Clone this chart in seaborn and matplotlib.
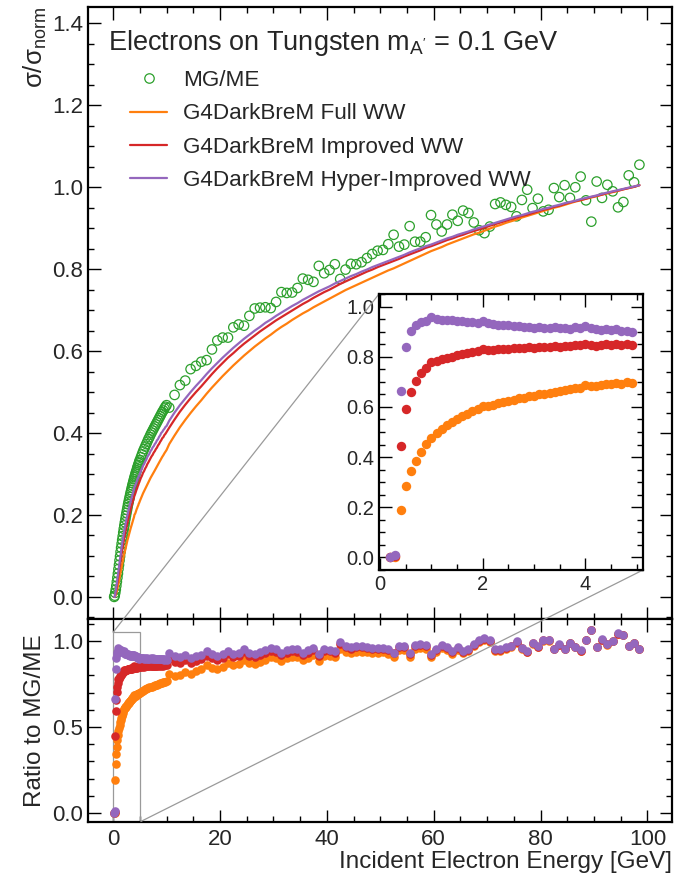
import numpy as np
import matplotlib
matplotlib.use("Agg")
import matplotlib.pyplot as plt
import seaborn as sns
from matplotlib.lines import Line2D
from matplotlib.ticker import MultipleLocator
from mpl_toolkits.axes_grid1.inset_locator import mark_inset

# ---------------- data ----------------
# low-energy region: MG/ME cross section and model/MG ratios (inset)
energy_lo = [0.2, 0.3, 0.4, 0.5, 0.6, 0.7, 0.8, 0.9, 1.0, 1.1,
             1.2, 1.3, 1.4, 1.5, 1.6, 1.7, 1.8, 1.9, 2.0, 2.1,
             2.2, 2.3, 2.4, 2.5, 2.6, 2.7, 2.8, 2.9, 3.0, 3.1,
             3.2, 3.3, 3.4, 3.5, 3.6, 3.7, 3.8, 3.9, 4.0, 4.1,
             4.2, 4.3, 4.4, 4.5, 4.6, 4.7, 4.8, 4.9,
             5.0, 5.2, 5.4, 5.6, 5.8, 6.0, 6.2, 6.4, 6.6, 6.8,
             7.0, 7.2, 7.4, 7.6, 7.8, 8.0, 8.2, 8.4, 8.6, 8.8,
             9.0, 9.2, 9.4, 9.6, 9.8, 10.0]
mg_lo = [0.000, 0.003, 0.010, 0.018, 0.027, 0.037, 0.047, 0.057, 0.068, 0.078,
         0.089, 0.099, 0.110, 0.120, 0.130, 0.139, 0.148, 0.157, 0.166, 0.174,
         0.182, 0.190, 0.198, 0.205, 0.212, 0.219, 0.226, 0.232, 0.238, 0.244,
         0.250, 0.256, 0.261, 0.267, 0.272, 0.277, 0.282, 0.287, 0.292, 0.296,
         0.301, 0.305, 0.309, 0.314, 0.318, 0.322, 0.326, 0.330,
         0.334, 0.341, 0.348, 0.355, 0.361, 0.367, 0.373, 0.379, 0.385, 0.390,
         0.396, 0.401, 0.406, 0.411, 0.416, 0.421, 0.426, 0.431, 0.436, 0.441,
         0.446, 0.451, 0.455, 0.460, 0.464, 0.468]
ratio_full_lo = [0.0, 0.0, 0.190, 0.283, 0.343, 0.386, 0.422, 0.451, 0.478, 0.495,
                 0.512, 0.527, 0.540, 0.552, 0.562, 0.572, 0.582, 0.591, 0.603, 0.604,
                 0.609, 0.614, 0.619, 0.624, 0.629, 0.635, 0.637, 0.642, 0.645, 0.650,
                 0.652, 0.657, 0.660, 0.662, 0.667, 0.670, 0.675, 0.677, 0.688, 0.684,
                 0.683, 0.688, 0.692, 0.690, 0.694, 0.693, 0.698, 0.697,
                 0.700, 0.705, 0.708, 0.712, 0.715, 0.719, 0.722, 0.725, 0.727, 0.730,
                 0.733, 0.735, 0.738, 0.740, 0.742, 0.745, 0.747, 0.749, 0.751, 0.754,
                 0.756, 0.758, 0.760, 0.762, 0.764, 0.766]
ratio_improved_lo = [0.0, 0.005, 0.446, 0.591, 0.659, 0.704, 0.734, 0.754, 0.778, 0.782,
                     0.789, 0.795, 0.800, 0.806, 0.810, 0.814, 0.818, 0.821, 0.832, 0.826,
                     0.828, 0.830, 0.831, 0.832, 0.833, 0.836, 0.835, 0.837, 0.836, 0.839,
                     0.838, 0.840, 0.842, 0.840, 0.843, 0.842, 0.846, 0.845, 0.852, 0.846,
                     0.844, 0.847, 0.849, 0.845, 0.849, 0.847, 0.850, 0.848,
                     0.849, 0.852, 0.850, 0.853, 0.851, 0.854, 0.852, 0.855, 0.853, 0.855,
                     0.854, 0.856, 0.854, 0.857, 0.855, 0.857, 0.855, 0.858, 0.856, 0.858,
                     0.857, 0.859, 0.857, 0.859, 0.858, 0.860]
ratio_hyper_lo = [0.0, 0.010, 0.665, 0.840, 0.902, 0.927, 0.937, 0.944, 0.960, 0.950,
                  0.948, 0.946, 0.945, 0.942, 0.941, 0.939, 0.937, 0.935, 0.941, 0.933,
                  0.930, 0.927, 0.927, 0.925, 0.922, 0.924, 0.920, 0.919, 0.916, 0.918,
                  0.915, 0.914, 0.917, 0.913, 0.916, 0.912, 0.917, 0.915, 0.921, 0.914,
                  0.911, 0.908, 0.910, 0.905, 0.909, 0.902, 0.904, 0.898,
                  0.900, 0.903, 0.899, 0.902, 0.898, 0.900, 0.897, 0.901, 0.898, 0.896,
                  0.899, 0.896, 0.899, 0.895, 0.897, 0.894, 0.897, 0.893, 0.896, 0.894,
                  0.897, 0.893, 0.895, 0.892, 0.894, 0.891]

# high-energy region: MG/ME cross section and the three G4DarkBreM curves
energy_hi = [10.5, 11.5, 12.5, 13.5, 14.5, 15.5, 16.5, 17.5, 18.5, 19.5,
             20.5, 21.5, 22.5, 23.5, 24.5, 25.5, 26.5, 27.5, 28.5, 29.5,
             30.5, 31.5, 32.5, 33.5, 34.5, 35.5, 36.5, 37.5, 38.5, 39.5,
             40.5, 41.5, 42.5, 43.5, 44.5, 45.5, 46.5, 47.5, 48.5, 49.5,
             50.5, 51.5, 52.5, 53.5, 54.5, 55.5, 56.5, 57.5, 58.5, 59.5,
             60.5, 61.5, 62.5, 63.5, 64.5, 65.5, 66.5, 67.5, 68.5, 69.5,
             70.5, 71.5, 72.5, 73.5, 74.5, 75.5, 76.5, 77.5, 78.5, 79.5,
             80.5, 81.5, 82.5, 83.5, 84.5, 85.5, 86.5, 87.5, 88.5, 89.5,
             90.5, 91.5, 92.5, 93.5, 94.5, 95.5, 96.5, 97.5, 98.5]
mg_hi = [0.462, 0.493, 0.517, 0.528, 0.556, 0.564, 0.574, 0.578, 0.604, 0.626,
         0.633, 0.633, 0.658, 0.665, 0.662, 0.686, 0.704, 0.706, 0.707, 0.705,
         0.720, 0.744, 0.742, 0.743, 0.754, 0.777, 0.774, 0.769, 0.808, 0.790,
         0.798, 0.812, 0.776, 0.799, 0.813, 0.812, 0.817, 0.827, 0.837, 0.845,
         0.847, 0.861, 0.884, 0.855, 0.860, 0.905, 0.867, 0.867, 0.878, 0.932,
         0.909, 0.892, 0.909, 0.933, 0.918, 0.943, 0.937, 0.914, 0.895, 0.888,
         0.904, 0.959, 0.963, 0.957, 0.952, 0.929, 0.969, 0.994, 0.949, 0.972,
         0.941, 0.945, 0.998, 0.976, 1.005, 0.974, 1.000, 1.026, 0.968, 0.916,
         1.014, 0.974, 1.006, 0.990, 0.951, 0.964, 1.029, 1.012, 1.055]
full_hi = [0.373, 0.394, 0.414, 0.432, 0.449, 0.465, 0.480, 0.496, 0.511, 0.525,
           0.539, 0.552, 0.565, 0.577, 0.589, 0.600, 0.611, 0.621, 0.631, 0.640,
           0.650, 0.659, 0.667, 0.676, 0.684, 0.692, 0.699, 0.707, 0.714, 0.721,
           0.728, 0.735, 0.742, 0.749, 0.755, 0.761, 0.767, 0.773, 0.779, 0.785,
           0.791, 0.797, 0.802, 0.808, 0.814, 0.820, 0.826, 0.832, 0.838, 0.844,
           0.849, 0.854, 0.860, 0.865, 0.870, 0.875, 0.880, 0.885, 0.889, 0.894,
           0.899, 0.904, 0.908, 0.913, 0.917, 0.921, 0.926, 0.930, 0.934, 0.938,
           0.942, 0.946, 0.950, 0.953, 0.957, 0.961, 0.965, 0.968, 0.972, 0.975,
           0.978, 0.982, 0.985, 0.988, 0.991, 0.995, 0.998, 1.001, 1.005]
improved_hi = [0.413, 0.433, 0.452, 0.469, 0.485, 0.500, 0.514, 0.529, 0.544, 0.558,
               0.571, 0.584, 0.595, 0.607, 0.618, 0.628, 0.638, 0.648, 0.657, 0.666,
               0.675, 0.683, 0.691, 0.699, 0.707, 0.715, 0.722, 0.730, 0.737, 0.744,
               0.750, 0.757, 0.764, 0.770, 0.776, 0.782, 0.788, 0.794, 0.799, 0.805,
               0.810, 0.815, 0.820, 0.825, 0.831, 0.836, 0.841, 0.846, 0.852, 0.856,
               0.861, 0.866, 0.871, 0.875, 0.880, 0.884, 0.889, 0.893, 0.897, 0.901,
               0.906, 0.910, 0.914, 0.918, 0.922, 0.926, 0.930, 0.933, 0.937, 0.941,
               0.945, 0.948, 0.952, 0.955, 0.959, 0.963, 0.966, 0.969, 0.972, 0.976,
               0.979, 0.982, 0.986, 0.989, 0.992, 0.995, 0.998, 1.001, 1.005]
hyper_hi = [0.430, 0.450, 0.468, 0.484, 0.500, 0.515, 0.529, 0.544, 0.558, 0.571,
            0.584, 0.596, 0.608, 0.619, 0.630, 0.640, 0.650, 0.659, 0.669, 0.677,
            0.686, 0.694, 0.702, 0.710, 0.717, 0.725, 0.732, 0.739, 0.746, 0.752,
            0.758, 0.765, 0.771, 0.777, 0.783, 0.788, 0.794, 0.799, 0.805, 0.810,
            0.815, 0.820, 0.825, 0.830, 0.835, 0.841, 0.846, 0.851, 0.856, 0.860,
            0.865, 0.870, 0.875, 0.879, 0.884, 0.888, 0.892, 0.897, 0.901, 0.905,
            0.909, 0.913, 0.917, 0.921, 0.925, 0.929, 0.932, 0.936, 0.940, 0.943,
            0.947, 0.950, 0.954, 0.957, 0.961, 0.964, 0.967, 0.971, 0.974, 0.977,
            0.980, 0.984, 0.987, 0.990, 0.993, 0.996, 0.999, 1.002, 1.005]

labels = ["MG/ME", "G4DarkBreM Full WW", "G4DarkBreM Improved WW",
          "G4DarkBreM Hyper-Improved WW"]
title_text = "Electrons on Tungsten m$_{\\mathrm{A}^{\\prime}}$ = 0.1 GeV"

# ---------------- assemble series ----------------
mg_lo_a, mg_hi_a = np.array(mg_lo), np.array(mg_hi)
energy = np.array(energy_lo + energy_hi)
mg = np.concatenate([mg_lo_a, mg_hi_a])
curve = {
    "full": np.concatenate([np.array(ratio_full_lo) * mg_lo_a, full_hi]),
    "improved": np.concatenate([np.array(ratio_improved_lo) * mg_lo_a, improved_hi]),
    "hyper": np.concatenate([np.array(ratio_hyper_lo) * mg_lo_a, hyper_hi]),
}
ratio = {
    "full": np.concatenate([ratio_full_lo, np.array(full_hi) / mg_hi_a]),
    "improved": np.concatenate([ratio_improved_lo, np.array(improved_hi) / mg_hi_a]),
    "hyper": np.concatenate([ratio_hyper_lo, np.array(hyper_hi) / mg_hi_a]),
}
colors = {"mg": "#2ca02c", "full": "#ff7f0e", "improved": "#d62728", "hyper": "#9467bd"}

# ---------------- style ----------------
sns.set_theme(style="ticks")
plt.rcParams["font.family"] = ["Liberation Sans", "DejaVu Sans"]
plt.rcParams["mathtext.fontset"] = "custom"
plt.rcParams["mathtext.rm"] = "Liberation Sans"
plt.rcParams["mathtext.it"] = "Liberation Sans:italic"
plt.rcParams["mathtext.bf"] = "Liberation Sans:bold"
plt.rcParams["axes.linewidth"] = 1.6

W, H = 679, 884
fig = plt.figure(figsize=(W / 100, H / 100), dpi=100)
fig.patch.set_facecolor("white")
ax_main = fig.add_axes([88 / W, 1 - 619 / H, 584 / W, 612 / H])
ax_bot = fig.add_axes([88 / W, 1 - 822 / H, 584 / W, 203 / H])
ax_in = fig.add_axes([379 / W, 1 - 570 / H, 264 / W, 276 / H])
ax_main.set_facecolor("none")


def style_axes(ax, xmaj, xmin, ymaj, ymin, fs):
    ax.xaxis.set_major_locator(MultipleLocator(xmaj))
    ax.xaxis.set_minor_locator(MultipleLocator(xmin))
    ax.yaxis.set_major_locator(MultipleLocator(ymaj))
    ax.yaxis.set_minor_locator(MultipleLocator(ymin))
    ax.tick_params(which="both", direction="in", top=True, right=True,
                   width=1.0, color="black", labelsize=fs)
    ax.tick_params(which="major", length=9)
    ax.tick_params(which="minor", length=4.5)
    for s in ax.spines.values():
        s.set_linewidth(1.6)
        s.set_color("black")


# ---------------- top panel ----------------
sns.scatterplot(x=energy, y=mg, ax=ax_main, marker="o", s=46,
                facecolors="none", edgecolor=colors["mg"], linewidth=0.9, zorder=2)
for key in ["full", "improved", "hyper"]:
    sns.lineplot(x=energy, y=curve[key], ax=ax_main, color=colors[key],
                 linewidth=1.6, sort=False, estimator=None, zorder=3)
ax_main.set_xlim(-4.7, 104.6)
ax_main.set_ylim(-0.054, 1.44)
style_axes(ax_main, 20, 5, 0.2, 0.05, 16)
ax_main.tick_params(labelbottom=False)
ax_main.set_xlabel("")
ax_main.set_ylabel("σ/σ$_{\\mathrm{norm}}$", fontsize=18.5, loc="top")
ax_main.yaxis.set_label_coords(-0.066, 1.0)

ax_main.text(0.034, 0.930, title_text, transform=ax_main.transAxes,
             fontsize=19.5, ha="left", va="baseline")
handles = [
    Line2D([], [], marker="o", ls="none", mfc="none", mec=colors["mg"], ms=6.8, mew=0.9),
    Line2D([], [], color=colors["full"], lw=1.6),
    Line2D([], [], color=colors["improved"], lw=1.6),
    Line2D([], [], color=colors["hyper"], lw=1.6),
]
ax_main.legend(handles, labels, loc="upper left", bbox_to_anchor=(0.072, 0.897),
               frameon=False, fontsize=16.2, borderpad=0, borderaxespad=0,
               handlelength=1.65, handletextpad=0.72, labelspacing=0.55)

# ---------------- ratio panel ----------------
for key in ["full", "improved", "hyper"]:
    sns.scatterplot(x=energy, y=ratio[key], ax=ax_bot, color=colors[key], s=38,
                    linewidth=0, zorder=3)
ax_bot.set_xlim(-4.7, 104.6)
ax_bot.set_ylim(-0.052, 1.128)
style_axes(ax_bot, 20, 5, 0.5, 0.1, 16)
ax_bot.tick_params(axis="x", which="major", pad=5)
ax_bot.set_xlabel("Incident Electron Energy [GeV]", fontsize=17.5, loc="right", labelpad=1)
ax_bot.set_ylabel("Ratio to MG/ME", fontsize=17.5)
ax_bot.yaxis.set_label_coords(-0.072, 0.5)

# ---------------- inset (zoom on low energies of the ratio) ----------------
sel = energy < 5.0
for key in ["full", "improved", "hyper"]:
    sns.scatterplot(x=energy[sel], y=ratio[key][sel], ax=ax_in, color=colors[key],
                    s=46, linewidth=0, zorder=3)
ax_in.set_xlim(-0.02, 5.12)
ax_in.set_ylim(-0.05, 1.05)
style_axes(ax_in, 2, 0.5, 0.2, 0.05, 14.5)
ax_in.set_xlabel("")
ax_in.set_ylabel("")

mark_inset(ax_bot, ax_in, loc1=2, loc2=4, fc="none", ec="#9a9a9a", lw=0.9)

fig.savefig("out.png", dpi=100)
